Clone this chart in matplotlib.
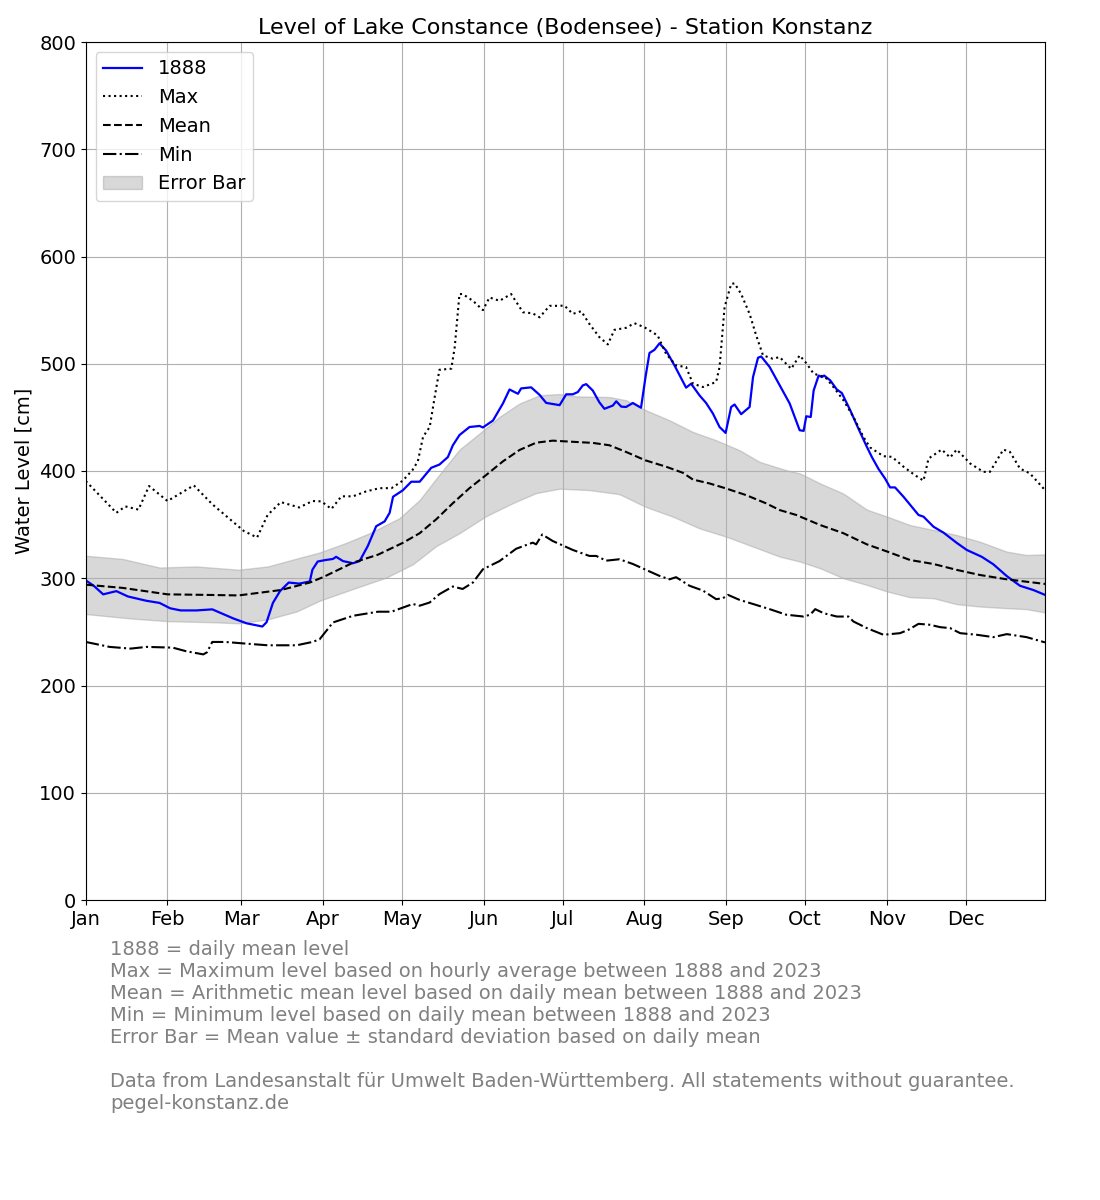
import numpy as np
import matplotlib
matplotlib.use("Agg")
import matplotlib.pyplot as plt

# day of year (0 = 1 Jan) and level in cm
y1888_day = [0, 3, 6.6, 11.6, 16, 23, 28, 32, 36, 42, 48, 56, 61, 67, 68.6, 71, 73.7, 77, 81, 85, 86, 88,
             91, 93.8, 95, 97.6, 101.4, 103.9, 107, 110.2, 113.4, 115.3, 116.6, 120.3, 123.5, 126.7, 131.1,
             134.2, 137.4, 139.3, 141.8, 145.6, 149.4, 150.7, 154.5, 158.3, 160.8, 164, 165.2, 169, 172.2,
             174.7, 179.8, 182.3, 184.8, 186.7, 188.6, 189.9, 192.4, 194.9, 196.8, 200, 201.3, 203.2, 205,
             207.6, 210.7, 212.4, 213.9, 215.8, 217.7, 220.2, 223.4, 227.8, 229.7, 232.9, 235.4, 238, 240.5,
             242.8, 244.9, 246.2, 248.7, 251.9, 253.2, 255.1, 256.3, 259.5, 263.3, 267.1, 270.9, 272.4,
             273.4, 275.1, 276.2, 278.1, 279.3, 280.2, 282.5, 285, 286.9, 290.1, 293.2, 296.4, 298.3, 300.8,
             303.3, 305.2, 307.1, 310.3, 316, 317.9, 321.7, 325.5, 330.5, 334.3, 340, 344.4, 349.5, 354.5,
             359.6, 364]
y1888_cm = [298, 293, 285, 288, 283, 279, 277, 272, 270, 270, 271, 262.5, 258, 255, 259, 277, 288, 296, 295,
            297, 308, 315.6,
            317, 318, 320, 316, 314, 316, 330, 348.5, 353, 361, 376, 382, 390, 390, 403,
            406, 413, 424, 433.5, 441, 442, 440.6, 447, 463, 476, 472, 477, 478, 471,
            463.5, 461.4, 471.5, 471.5, 473.6, 479.8, 481, 475, 464, 458, 461, 465, 460, 459.7,
            463.4, 459, 487.6, 510, 513, 519, 512.4, 498.4, 477.7, 481.4, 470.5, 463.4, 453.5, 441,
            435.5, 459.7, 462, 453, 459.7, 487.6, 505.6, 506.8, 497, 480, 463, 438, 437.4,
            451, 450.4, 475, 489, 487.6, 489, 484.5, 476, 472.7, 456.6, 439.5, 422.5, 413, 402,
            393, 384.7, 384.7, 376, 359, 357.4, 348, 342.5, 333, 326.4, 320, 313, 302, 293,
            289, 284.5]

max_day = [0, 11.6, 15, 20, 24, 31, 41, 48, 60, 65, 69, 74, 81, 86, 89.4, 93.2, 97, 101.4, 106.4, 111.5,
           116, 120.3, 124, 126, 128, 130.5, 132.4, 134.2, 138.7, 140, 141.8, 143, 146.9, 150.7, 153.2,
           157, 161.4, 165.9, 169.6, 172.2, 176, 179.8, 181.6, 184.8, 188, 191.1, 194.9, 198.1, 200.6,
           205, 208.2, 212, 217, 220.2, 224, 227.8, 230.4, 234.2, 239.2, 240.5, 242.4, 244.9, 246.2,
           248.7, 251.9, 254.4, 257, 260.7, 263.3, 267.7, 270.9, 273.6, 276.2, 280.6, 283.7, 287.5,
           291.3, 295.1, 297.6, 302.7, 305.9, 310.3, 314.7, 317.9, 319.8, 324.8, 328, 330.5, 335.6,
           340.6, 343.1, 348.2, 350.7, 354.5, 358.3, 364]
max_cm = [390.6, 361, 367, 364, 386, 372, 386.6, 369, 344, 338, 359, 371, 366, 372, 371.7, 364.6, 376.4,
          376.4, 381, 384, 384, 391, 401, 409, 432, 441, 469, 494.4, 495.4, 515.5, 565, 565, 558.7, 550,
          561.8, 558.7, 565, 548, 547, 543.3, 554, 554, 554.3, 546.5, 549, 537.2, 524.8, 518, 531.6,
          533.5, 537.8, 534, 526.4, 509.3, 498.4, 496.9, 481.4, 478.3, 483, 497, 552.7, 574.4, 575,
          565, 546.5, 526.4, 507.8, 504.7, 506.2, 495.3, 507.8, 500, 490.7, 487.6, 478.3, 466,
          450.4, 431.8, 422, 413.8, 413.2, 404, 396, 391, 411.6, 420, 412.6, 420, 407,
          399.2, 399.2, 420, 417.8, 402.3, 397.7, 382.2]

mean_day = [0, 14, 31, 45, 58, 74, 85, 90, 101.4, 110.9, 120.3, 126.7, 133, 139.3, 145.6, 152, 158.3,
            164.6, 170.9, 177.2, 183.6, 192.4, 198.7, 205, 212.3, 220.2, 226.6, 230.4, 236.7, 243, 250.6,
            258.2, 263.3, 269.6, 278.7, 287.5, 296.4, 304.2, 312.8, 321.7, 330.5, 339.4, 349.5, 364]
mean_cm = [294, 291, 285, 284.5, 284, 289, 296, 301, 314.5, 322, 333, 342, 355, 370, 384, 396.4, 409,
           419.6, 426.4, 428.3, 427.4, 426.2, 424, 417.8, 410, 404, 398.3, 392, 388.4, 383.7, 377.5,
           369.8, 363.6, 359, 349.6, 342, 331.6, 324.8, 317, 313.3, 307.8, 303, 299, 294.7]

min_day = [0, 9, 17, 23, 33, 38, 44.6, 46, 48, 53, 61, 69, 80, 86, 88.7, 93.8, 101.4, 110.9, 116, 124.1,
           126.7, 130.5, 134.2, 139.3, 143, 146.9, 150.7, 157, 163.3, 169.6, 170.9, 173.2, 177.2, 179.7,
           184.8, 191.1, 193.7, 197.5, 202.5, 207.6, 212.6, 217.7, 221.5, 224, 229.1, 234.2, 239.2,
           241.8, 243.7, 248.1, 253.2, 259.5, 265.8, 272.4, 274.9, 276.8, 280, 285, 289.4, 291.3,
           296.4, 302.7, 309, 312.2, 316, 320.4, 324.2, 328, 331.8, 338.1, 344.4, 349.5, 357, 364]
min_cm = [240.6, 236, 234.4, 236, 235.3, 232, 229, 231, 240.6, 240.6, 239, 237.5, 237.5, 240.6, 243,
          258.8, 265, 268.8, 268.8, 276, 274.4, 277.4, 285.2, 292.3, 290, 296, 308.4, 316, 327.5,
          333.2, 331.6, 340.8, 334.7, 332, 326.4, 320.8, 320.8, 316.4, 317.7, 313.3, 307.8, 302.2,
          299, 301, 293, 288.5, 280.5, 281.4, 284.5, 279.8, 276, 271.2, 266, 264.3, 266, 271.2,
          267.4, 264.3, 264.3, 259.7, 253.5, 247.3, 248.8, 252, 257.5, 256.6, 254.4, 253.5, 248.8,
          247.3, 245.1, 247.9, 245.1, 240.2]

# mean +/- standard deviation
std_hi_day = [0, 14, 28, 42, 58, 69, 81, 88.7, 98.8, 107.7, 119, 126.7, 133, 141.8, 149.4, 157, 164.6,
              172.2, 179.7, 186, 198.7, 205, 212.6, 221.5, 230.4, 239.2, 248.1, 255.7, 265.8, 271.1,
              278.7, 287.5, 296.4, 304.2, 312.8, 321.7, 330.5, 339.4, 349.5, 357, 364]
std_hi_cm = [321, 318, 310, 311, 308, 311, 319, 324, 333, 342, 356, 373, 393, 420, 435, 450.5, 463,
             470.6, 471.8, 469.6, 469, 466, 456.6, 447.3, 436.4, 428.7, 419.4, 408.5, 400.8, 397.7,
             388.4, 379, 364, 357.4, 349.6, 345, 340.3, 334, 324.8, 321.7, 322.3]
std_lo_day = [0, 17, 31, 48, 58, 69, 80, 88.7, 101.4, 114, 124.1, 133, 141.8, 152, 162, 170.9, 179.8,
              191.1, 202.5, 212.3, 222.8, 232.9, 243, 253.2, 263.3, 271.1, 278.7, 287.5, 296.4, 304.2,
              312.8, 321.7, 330.5, 339.4, 349.5, 357, 364]
std_lo_cm = [266.6, 262.5, 260, 259, 258, 261.6, 269, 279, 290, 300.6, 313, 330, 342, 358, 370, 379.4,
             383.5, 382.2, 378.4, 366.7, 357.4, 346.5, 338.8, 329.5, 320.2, 315.5, 309.3, 300, 293.8,
             287.6, 282.3, 281.4, 275.8, 273.6, 272.1, 271.2, 268.1]

month_start = [0, 31, 59, 90, 120, 151, 181, 212, 243, 273, 304, 334]
month_names = ['Jan', 'Feb', 'Mar', 'Apr', 'May', 'Jun', 'Jul', 'Aug', 'Sep', 'Oct', 'Nov', 'Dec']

fig, ax = plt.subplots(figsize=(11, 12), dpi=100)
fig.subplots_adjust(left=0.078, right=0.95, top=0.965, bottom=0.25)

# error bar band: both edges put on one common day axis for fill_between
days = np.arange(0, 365)
band_hi = np.interp(days, std_hi_day, std_hi_cm)
band_lo = np.interp(days, std_lo_day, std_lo_cm)

ax.plot(y1888_day, y1888_cm, color='b', linewidth=1.6, label='1888')
ax.plot(max_day, max_cm, 'k:', linewidth=1.5, label='Max')
ax.plot(mean_day, mean_cm, 'k--', linewidth=1.5, label='Mean')
ax.plot(min_day, min_cm, 'k-.', linewidth=1.5, label='Min')
ax.fill_between(days, band_lo, band_hi, color='gray', alpha=0.3, label='Error Bar')

ax.set_xlim(0, 364)
ax.set_ylim(0, 800)
ax.set_xticks(month_start)
ax.set_xticklabels(month_names)
ax.tick_params(labelsize=14)
ax.grid(True)
ax.set_ylabel('Water Level [cm]', fontsize=14)
ax.set_title('Level of Lake Constance (Bodensee) - Station Konstanz', fontsize=16)
ax.legend(loc='upper left', fontsize=14)

note = ("1888 = daily mean level\n"
        "Max = Maximum level based on hourly average between 1888 and 2023\n"
        "Mean = Arithmetic mean level based on daily mean between 1888 and 2023\n"
        "Min = Minimum level based on daily mean between 1888 and 2023\n"
        "Error Bar = Mean value \u00b1 standard deviation based on daily mean\n"
        "\n"
        "Data from Landesanstalt f\u00fcr Umwelt Baden-W\u00fcrttemberg. All statements without guarantee.\n"
        "pegel-konstanz.de")
fig.text(0.1, 0.2165, note, fontsize=14, color='gray', va='top', linespacing=1.2)

fig.savefig('out.png')
